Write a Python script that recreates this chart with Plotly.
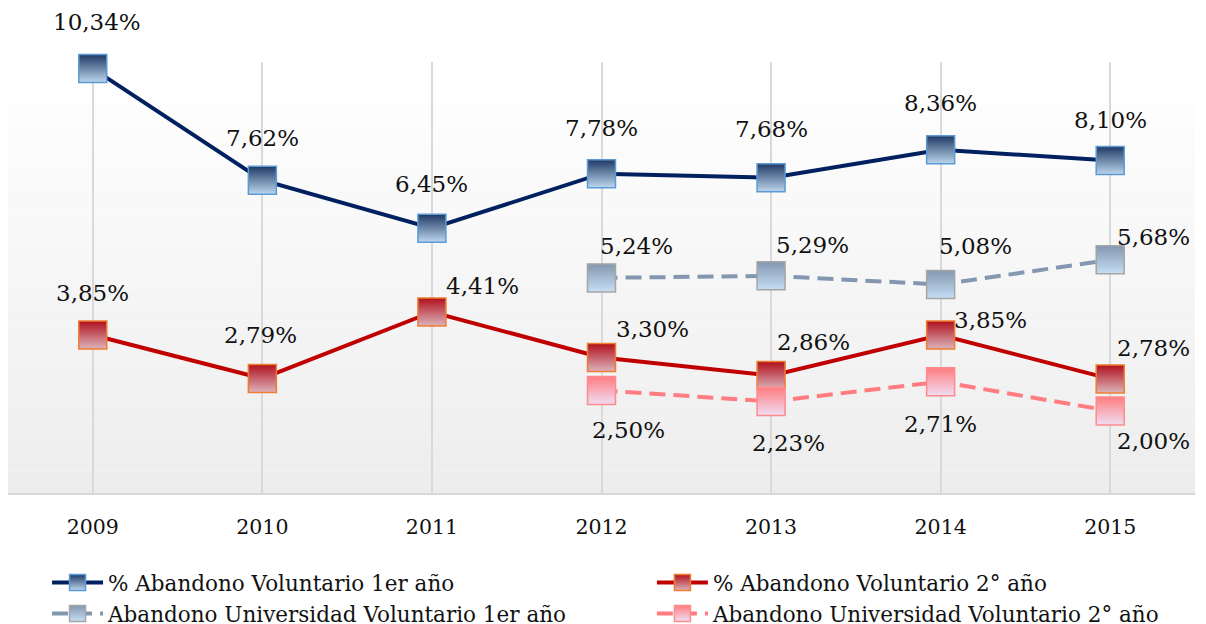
import plotly.graph_objects as go

years = ["2009", "2010", "2011", "2012", "2013", "2014", "2015"]
years_uni = ["2012", "2013", "2014", "2015"]

ab_vol_1 = [10.34, 7.62, 6.45, 7.78, 7.68, 8.36, 8.10]
ab_vol_2 = [3.85, 2.79, 4.41, 3.30, 2.86, 3.85, 2.78]
ab_uni_1 = [5.24, 5.29, 5.08, 5.68]
ab_uni_2 = [2.50, 2.23, 2.71, 2.00]

names = [
    "% Abandono Voluntario 1er año",
    "% Abandono Voluntario 2° año",
    "Abandono Universidad Voluntario 1er año",
    "Abandono Universidad Voluntario 2° año",
]

FONT = "DejaVu Serif"

# label offsets (px) per point: (xshift, yshift)
off_1 = [(4, 47), (0, 42), (0, 44), (0, 46), (0, 49), (0, 47), (0, 41)]
off_2 = [(0, 42), (-2, 43), (51, 26), (51, 29), (42, 34), (50, 15), (43, 31)]
off_u1 = [(35, 32), (41, 31), (35, 38), (43, 23)]
off_u2 = [(27, -40), (17, -42), (0, -42), (43, -30)]

def fmt(v):
    return f"{v:.2f}".replace(".", ",") + "%"

fig = go.Figure()

series = [
    (years, ab_vol_1, names[0], "#002060", "solid", "#1F3864", "#BDD7EE", "#5B9BD5", "legend"),
    (years, ab_vol_2, names[1], "#C00000", "solid", "#B0101C", "#DDB3BB", "#ED7D31", "legend2"),
    (years_uni, ab_uni_1, names[2], "#8497B0", "16px,8px", "#8497B0", "#C5DFF5", "#A5A5A5", "legend"),
    (years_uni, ab_uni_2, names[3], "#FF7C80", "16px,8px", "#FF7C80", "#F0DDF2", "#FF8A8E", "legend2"),
]

for xs, ys, nm, lc, dash, c1, c2, bc, lg in series:
    fig.add_trace(go.Scatter(
        x=xs, y=ys, name=nm, mode="lines+markers", legend=lg,
        line=dict(color=lc, width=4, dash=dash),
        marker=dict(symbol="square", size=28, color=c1,
                    gradient=dict(type="vertical", color=c2),
                    line=dict(color=bc, width=1.5)),
        cliponaxis=False,
    ))

annotations = []
for xs, ys, offs in [(years, ab_vol_1, off_1), (years, ab_vol_2, off_2),
                     (years_uni, ab_uni_1, off_u1), (years_uni, ab_uni_2, off_u2)]:
    for x, y, (dx, dy) in zip(xs, ys, offs):
        annotations.append(dict(x=years.index(x), y=y, text=fmt(y), showarrow=False,
                                xshift=dx, yshift=dy,
                                font=dict(family=FONT, size=23, color="#111111")))

# gradient background bands
shapes = []
n = 40
for i in range(n):
    t = i / (n - 1)
    g = int(round(255 - (255 - 237) * t))
    shapes.append(dict(type="rect", xref="paper", yref="paper",
                       x0=0, x1=1, y0=1 - (i + 1) / n, y1=1 - i / n,
                       fillcolor=f"rgb({g},{g},{g})", line=dict(width=0),
                       layer="below"))

legend_style = dict(orientation="v", yanchor="top", xanchor="left",
                    font=dict(size=21.5, family=FONT, color="#111111"),
                    itemwidth=51, tracegroupgap=0, bgcolor="rgba(0,0,0,0)")

fig.update_layout(
    width=1198, height=616,
    margin=dict(l=0, r=11, t=54, b=131, autoexpand=False),
    paper_bgcolor="white", plot_bgcolor="white",
    font=dict(family=FONT, size=20.5, color="#111111"),
    xaxis=dict(type="category", categoryorder="array", categoryarray=years,
               range=[-0.5, len(years) - 0.5], automargin=False,
               showgrid=True, gridcolor="#D9D9D9", gridwidth=2,
               showline=True, linecolor="#D9D9D9", linewidth=2,
               ticks="", ticklabelstandoff=14, tickfont=dict(size=20.5),
               zeroline=False),
    yaxis=dict(range=[0, 10.5], visible=False, showgrid=False, zeroline=False,
               automargin=False),
    showlegend=True,
    legend=dict(x=0.0329, y=-0.16, **legend_style),
    legend2=dict(x=0.5425, y=-0.16, **legend_style),
    shapes=shapes,
    annotations=annotations,
)

fig.write_html("out.html")
